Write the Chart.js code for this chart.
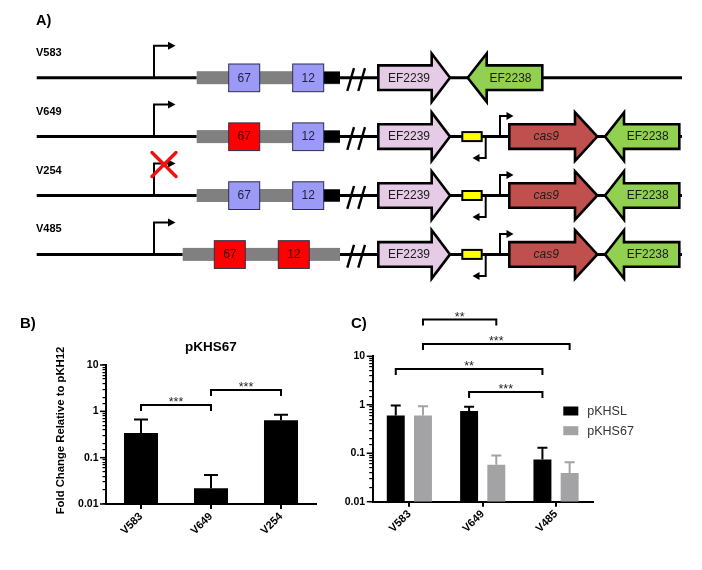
<!DOCTYPE html>
<html><head><meta charset="utf-8">
<script src="https://cdn.jsdelivr.net/npm/chart.js@4.4.1/dist/chart.umd.min.js"></script>
<style>
html,body{margin:0;padding:0;background:#fff;}
#wrap{position:relative;width:702px;height:570px;overflow:hidden;background:#fff;}
canvas{position:absolute;left:0;top:0;}
</style></head><body>
<div id="wrap">
<canvas id="cA" width="702" height="570"></canvas>
<canvas id="cB" width="702" height="570"></canvas>
<canvas id="cC" width="702" height="570"></canvas>
</div>
<script>
// ================= DATA =================
// Panel A (genetic constructs)
const strains = ['V583', 'V649', 'V254', 'V485'];
const box67Mutant = [false, true, false, true];
const box12Mutant = [false, false, false, true];
const hasCas9 = [false, true, true, true];
const promoterDeleted = [false, false, true, false];
const compactLocus = [false, false, false, true];
const boxLabels = ['67', '12'];
const geneLabels = ['EF2239', 'EF2238', 'cas9'];

// Panel B
const bCategories = ['V583', 'V649', 'V254'];
const bValues = [0.34, 0.022, 0.645];
const bErrors = [0.325, 0.020, 0.195];
const bTitle = 'pKHS67';
const bYTitle = 'Fold Change Relative to pKH12';
const bBrackets = [[[0, 0], [0, 1], '***'], [[0, 1], [0, 2], '***']];

// Panel C
const cCategories = ['V583', 'V649', 'V485'];
const cSeriesNames = ['pKHSL', 'pKHS67'];
const cPKHSL = [0.60, 0.74, 0.074];
const cPKHSLErr = [0.37, 0.17, 0.055];
const cPKHS67 = [0.60, 0.058, 0.039];
const cPKHS67Err = [0.33, 0.032, 0.026];
const cBrackets = [[[1, 0], [1, 1], '**'], [[1, 0], [1, 2], '***'], [[0, 0], [0, 2], '**'], [[0, 1], [0, 2], '***']];

const yTickLabels = ['0.01', '0.1', '1', '10'];
const yDecades = [0.01, 0.1, 1, 10];
const panelLetters = ['A)', 'B)', 'C)'];

// ================= STYLE / LAYOUT =================
const FONT = "'Liberation Sans', Arial, Helvetica, sans-serif";
Chart.defaults.font.family = FONT;
Chart.defaults.color = '#000';
const COL = {
  lav: '#9b9bf7', red: '#ff0000', gray: '#808080', e39: '#e6cbe6', e38: '#92d050',
  cas: '#c0504d', yellow: '#ffff00', barGray: '#a3a3a5'
};
const rowY0 = 77.7, rowStep = 58.9;
const bBracketY = [405, 390];
const cBracketY = [319.5, 344, 369, 392];

// ================= PANEL A =================
const diagramPlugin = {
  id: 'diagram',
  afterDraw(chart) {
    const ctx = chart.ctx;
    const X = v => chart.scales.x.getPixelForValue(v);
    const Y = v => chart.scales.y.getPixelForValue(v);
    ctx.save();
    ctx.lineCap = 'butt';
    ctx.lineJoin = 'miter';
    function line(x1, y1, x2, y2, w, c) {
      ctx.beginPath(); ctx.moveTo(X(x1), Y(y1)); ctx.lineTo(X(x2), Y(y2));
      ctx.lineWidth = w; ctx.strokeStyle = c || '#000'; ctx.stroke();
    }
    function tri(pts) {
      ctx.beginPath(); ctx.moveTo(X(pts[0][0]), Y(pts[0][1]));
      for (let i = 1; i < pts.length; i++) ctx.lineTo(X(pts[i][0]), Y(pts[i][1]));
      ctx.closePath(); ctx.fillStyle = '#000'; ctx.fill();
    }
    function rect(x1, y1, x2, y2, fill, stroke, lw) {
      ctx.fillStyle = fill; ctx.fillRect(X(x1), Y(y1), X(x2) - X(x1), Y(y2) - Y(y1));
      if (stroke) { ctx.lineWidth = lw; ctx.strokeStyle = stroke; ctx.strokeRect(X(x1), Y(y1), X(x2) - X(x1), Y(y2) - Y(y1)); }
    }
    function text(t, x, y, font, color, align) {
      ctx.font = font; ctx.fillStyle = color; ctx.textAlign = align || 'center'; ctx.textBaseline = 'middle';
      ctx.fillText(t, X(x), Y(y));
    }
    function gene(x0, tip, hb, y, fill, label, italic) {
      const bh = 12.3, hh = 24.2;
      ctx.beginPath();
      ctx.moveTo(X(x0), Y(y - bh)); ctx.lineTo(X(hb), Y(y - bh)); ctx.lineTo(X(hb), Y(y - hh));
      ctx.lineTo(X(tip), Y(y)); ctx.lineTo(X(hb), Y(y + hh)); ctx.lineTo(X(hb), Y(y + bh));
      ctx.lineTo(X(x0), Y(y + bh)); ctx.closePath();
      ctx.fillStyle = fill; ctx.fill(); ctx.lineWidth = 2.6; ctx.strokeStyle = '#000'; ctx.stroke();
      const cx = (x0 + hb) / 2 + (tip > x0 ? 4 : -4);
      text(label, cx, y + 0.5, (italic ? 'italic ' : '') + '12px ' + FONT, '#1a1a1a');
    }
    text(panelLetters[0], 36, 21, 'bold 14.5px ' + FONT, '#000', 'left');
    strains.forEach((name, i) => {
      const y = rowY0 + i * rowStep;
      text(name, 36, y - 25, 'bold 11px ' + FONT, '#000', 'left');
      const grayStart = compactLocus[i] ? 182.7 : 196.7;
      // main line
      line(36.7, y, grayStart, y, 3);
      line(338, y, 380, y, 3);
      line(448, y, 682, y, 3);
      // promoter
      ctx.lineWidth = 2;
      ctx.beginPath(); ctx.moveTo(X(154), Y(y)); ctx.lineTo(X(154), Y(y - 32)); ctx.lineTo(X(168.5), Y(y - 32));
      ctx.strokeStyle = '#000'; ctx.stroke();
      tri([[168, y - 36], [175.5, y - 32], [168, y - 28]]);
      // gray bar with boxes
      rect(grayStart, y - 6.5, 340, y + 6.5, COL.gray);
      if (!compactLocus[i]) rect(323, y - 6, 340, y + 6, '#000');
      const b67 = compactLocus[i] ? 214.3 : 228.7;
      const b12 = compactLocus[i] ? 278.3 : 292.7;
      [[b67, box67Mutant[i], boxLabels[0]], [b12, box12Mutant[i], boxLabels[1]]].forEach(([bx, mut, lab]) => {
        rect(bx, y - 13.7, bx + 31, y + 14, mut ? COL.red : COL.lav, '#2d2d4a', 1);
        text(lab, bx + 15.5, y + 0.5, '12px ' + FONT, mut ? '#3a0000' : '#22223a');
      });
      // break slashes
      line(354, y - 9.5, 347.3, y + 13.3, 2.4);
      line(365, y - 9.5, 358.3, y + 13.3, 2.4);
      // EF2239
      gene(378.3, 450, 431.7, y, COL.e39, geneLabels[0]);
      if (hasCas9[i]) {
        rect(462.3, y - 4.5, 481.7, y + 4.5, COL.yellow, '#000', 2);
        // reverse promoter
        ctx.lineWidth = 2; ctx.strokeStyle = '#000';
        ctx.beginPath(); ctx.moveTo(X(485.7), Y(y)); ctx.lineTo(X(485.7), Y(y + 21.5)); ctx.lineTo(X(479), Y(y + 21.5)); ctx.stroke();
        tri([[479.5, y + 17.5], [472.5, y + 21.5], [479.5, y + 25.5]]);
        // forward promoter
        ctx.beginPath(); ctx.moveTo(X(500), Y(y)); ctx.lineTo(X(500), Y(y - 20.5)); ctx.lineTo(X(507), Y(y - 20.5)); ctx.stroke();
        tri([[506.5, y - 24.5], [513.5, y - 20.5], [506.5, y - 16.5]]);
        gene(509.3, 597.3, 575, y, COL.cas, geneLabels[2], true);
        gene(679.3, 605, 624, y, COL.e38, geneLabels[1]);
      } else {
        gene(542.3, 467.7, 486.7, y, COL.e38, geneLabels[1]);
      }
      if (promoterDeleted[i]) {
        ctx.lineCap = 'round';
        line(152, y - 43, 176, y - 19, 3.4, '#ee1111');
        line(176, y - 43, 152, y - 19, 3.4, '#ee1111');
        ctx.lineCap = 'butt';
      }
    });
    ctx.restore();
  }
};

new Chart(document.getElementById('cA'), {
  type: 'scatter',
  data: { datasets: [] },
  options: {
    responsive: false, animation: false, devicePixelRatio: 1, events: [],
    layout: { padding: 0 },
    plugins: { legend: { display: false }, tooltip: { enabled: false } },
    scales: {
      x: { type: 'linear', min: 0, max: 702, display: false },
      y: { type: 'linear', min: 0, max: 570, reverse: true, display: false }
    }
  },
  plugins: [diagramPlugin]
});

// ================= PANELS B & C =================
function decadeLabel(v) {
  const l = Math.log10(v), r = Math.round(l);
  return Math.abs(l - r) < 1e-6 ? yTickLabels[r + 2] : '';
}

function annotPlugin(cfg) {
  return {
    id: 'annot' + cfg.key,
    afterDatasetsDraw(chart) {
      const ctx = chart.ctx, ys = chart.scales.y;
      ctx.save();
      // longer major ticks on the log axis
      ctx.strokeStyle = '#000'; ctx.lineWidth = 1.5;
      yDecades.forEach(d => {
        const py = ys.getPixelForValue(d);
        ctx.beginPath(); ctx.moveTo(chart.chartArea.left - 6, py); ctx.lineTo(chart.chartArea.left, py); ctx.stroke();
      });
      // error bars
      cfg.errors.forEach((errs, di) => {
        const meta = chart.getDatasetMeta(di);
        const color = chart.data.datasets[di].backgroundColor;
        errs.forEach((e, j) => {
          const el = meta.data[j];
          const v = chart.data.datasets[di].data[j];
          const yt = ys.getPixelForValue(v + e);
          ctx.strokeStyle = color; ctx.lineWidth = 2;
          ctx.beginPath(); ctx.moveTo(el.x, el.y); ctx.lineTo(el.x, yt);
          ctx.moveTo(el.x - cfg.cap / 2, yt); ctx.lineTo(el.x + cfg.cap / 2, yt); ctx.stroke();
        });
      });
      // significance brackets
      cfg.brackets.forEach((b, k) => {
        const x1 = chart.getDatasetMeta(b[0][0]).data[b[0][1]].x;
        const x2 = chart.getDatasetMeta(b[1][0]).data[b[1][1]].x;
        const y = cfg.bracketY[k];
        ctx.strokeStyle = '#000'; ctx.lineWidth = 2;
        ctx.beginPath(); ctx.moveTo(x1, y + 6); ctx.lineTo(x1, y); ctx.lineTo(x2, y); ctx.lineTo(x2, y + 6); ctx.stroke();
        ctx.fillStyle = '#222'; ctx.font = '12.5px ' + FONT; ctx.textAlign = 'center'; ctx.textBaseline = 'alphabetic';
        ctx.fillText(b[2], (x1 + x2) / 2, y + 1);
      });
      // texts
      ctx.fillStyle = '#000'; ctx.textBaseline = 'middle';
      ctx.font = 'bold 15px ' + FONT; ctx.textAlign = 'left';
      ctx.fillText(cfg.letter, cfg.letterX, cfg.letterY);
      if (cfg.title) {
        ctx.font = 'bold 13.5px ' + FONT; ctx.textAlign = 'center';
        ctx.fillText(cfg.title, (chart.chartArea.left + chart.chartArea.right) / 2, cfg.titleY);
      }
      if (cfg.yTitle) {
        ctx.save(); ctx.translate(cfg.yTitleX, (chart.chartArea.top + chart.chartArea.bottom) / 2 - 4);
        ctx.rotate(-Math.PI / 2); ctx.font = 'bold 11.3px ' + FONT; ctx.textAlign = 'center';
        ctx.fillText(cfg.yTitle, 0, 0); ctx.restore();
      }
      if (cfg.legend) {
        chart.data.datasets.forEach((ds, i) => {
          const ly = cfg.legend.y + i * cfg.legend.step;
          ctx.fillStyle = ds.backgroundColor;
          ctx.fillRect(cfg.legend.x, ly - 4.5, 15, 9);
          ctx.fillStyle = '#333'; ctx.font = '12.5px ' + FONT; ctx.textAlign = 'left';
          ctx.fillText(ds.label, cfg.legend.x + 24, ly + 0.5);
        });
      }
      ctx.restore();
    }
  };
}

function barOptions(pad, yWidth, xHeight, catPct, barPct) {
  return {
    responsive: false, animation: false, devicePixelRatio: 1, events: [],
    layout: { padding: pad },
    plugins: { legend: { display: false }, tooltip: { enabled: false } },
    datasets: { bar: { categoryPercentage: catPct, barPercentage: barPct } },
    scales: {
      x: {
        afterFit: s => { s.height = xHeight; },
        grid: { display: true, drawOnChartArea: false, offset: false, tickLength: 5, color: '#000', lineWidth: 2 },
        border: { display: true, color: '#000', width: 2 },
        ticks: { font: { size: 11, weight: 'bold' }, color: '#000', minRotation: 45, maxRotation: 45, padding: 1, autoSkip: false }
      },
      y: {
        type: 'logarithmic', min: 0.01, max: 10,
        afterFit: s => { s.width = yWidth; },
        grid: { display: true, drawOnChartArea: false, tickLength: 3.5, color: '#000', lineWidth: 1.2 },
        border: { display: true, color: '#000', width: 2 },
        ticks: { font: { size: 10.5, weight: 'bold' }, color: '#000', autoSkip: false, padding: 4, callback: decadeLabel }
      }
    }
  };
}

new Chart(document.getElementById('cB'), {
  type: 'bar',
  data: { labels: bCategories, datasets: [{ label: bTitle, data: bValues, backgroundColor: '#000', borderWidth: 0 }] },
  options: barOptions({ left: 0, top: 365, right: 386, bottom: 0 }, 106, 66, 1.0, 0.486),
  plugins: [annotPlugin({
    key: 'B', errors: [bErrors], cap: 14, brackets: bBrackets, bracketY: bBracketY,
    letter: panelLetters[1], letterX: 20, letterY: 323.5, title: bTitle, titleY: 347,
    yTitle: bYTitle, yTitleX: 61
  })]
});

new Chart(document.getElementById('cC'), {
  type: 'bar',
  data: {
    labels: cCategories,
    datasets: [
      { label: cSeriesNames[0], data: cPKHSL, backgroundColor: '#000', borderWidth: 0 },
      { label: cSeriesNames[1], data: cPKHS67, backgroundColor: COL.barGray, borderWidth: 0 }
    ]
  },
  options: barOptions({ left: 0, top: 356.3, right: 109.3, bottom: 0 }, 372.7, 68.3, 0.742, 0.66),
  plugins: [annotPlugin({
    key: 'C', errors: [cPKHSLErr, cPKHS67Err], cap: 10, brackets: cBrackets, bracketY: cBracketY,
    letter: panelLetters[2], letterX: 351, letterY: 323.5,
    legend: { x: 563.3, y: 411, step: 19.7 }
  })]
});
</script>
</body></html>
